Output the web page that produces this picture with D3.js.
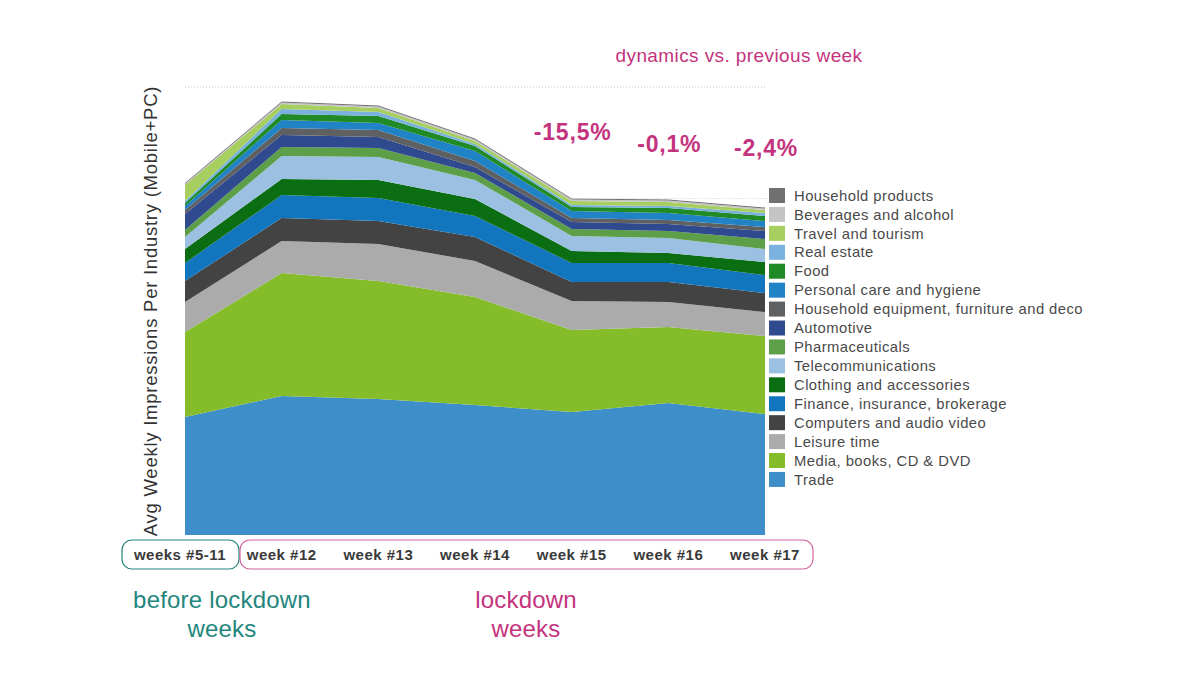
<!DOCTYPE html>
<html lang="en">
  <head>
    <meta charset="UTF-8" />
    <title>Weekly impressions per industry</title>
    <style>
      body {
        margin: 0;
        background: #fff;
      }
      svg {
        font-family: "Liberation Sans", Arial, sans-serif;
      }
    </style>
  </head>

  <body>
    <script src="https://cdn.jsdelivr.net/npm/d3@7"></script>
    <script>
      // semaines (la premiere colonne = moyenne avant confinement)
      const weeks = ["weeks #5-11", "week #12", "week #13", "week #14", "week #15", "week #16", "week #17"];

      // industries, du bas de la pile vers le haut
      const industries = [
        "Trade",
        "Media, books, CD & DVD",
        "Leisure time",
        "Computers and audio video",
        "Finance, insurance, brokerage",
        "Clothing and accessories",
        "Telecommunications",
        "Pharmaceuticals",
        "Automotive",
        "Household equipment, furniture and deco",
        "Personal care and hygiene",
        "Food",
        "Real estate",
        "Travel and tourism",
        "Beverages and alcohol",
        "Household products",
      ];

      const colors = [
        "#3e8fc9", "#85bd2a", "#ababab", "#434344", "#1276be", "#0b6e12",
        "#9bc0e2", "#5d9e49", "#2f4a8f", "#5f6062", "#2083c6", "#1f8a26",
        "#7ab1de", "#a7cf60", "#c4c4c4", "#707071",
      ];

      // impressions moyennes (unite arbitraire), une ligne par industrie, une colonne par semaine
      const trade = [118, 139, 136, 130, 123, 132, 121];
      const media = [85, 123, 118, 108, 82, 76, 78];
      const leisure = [30, 32, 37, 36, 29, 25, 24];
      const computers = [21, 23, 23, 24, 19, 20, 19];
      const finance = [18, 23, 23, 21, 19, 19, 18];
      const clothing = [14, 16, 18, 17, 12, 10, 13];
      const telecom = [12, 23, 23, 19, 15, 15, 13];
      const pharma = [7, 9, 9, 7, 7, 7, 10];
      const automotive = [16, 12, 11, 6, 7, 7, 8];
      const householdEquipment = [4, 7, 7, 6, 4, 4, 4];
      const personalCare = [4, 8, 7, 10, 7, 7, 6];
      const food = [3, 6, 7, 5, 4, 5, 5];
      const realEstate = [2, 5, 4, 2, 2, 2, 3];
      const travel = [16, 5, 4, 3, 4, 4, 3];
      const beverages = [1, 1.5, 1.5, 1.5, 1.5, 1.5, 1.5];
      const householdProducts = [1, 1, 1, 1, 1, 1, 1];

      const series = [
        trade, media, leisure, computers, finance, clothing, telecom, pharma,
        automotive, householdEquipment, personalCare, food, realEstate, travel,
        beverages, householdProducts,
      ];

      // evolution vs semaine precedente (semaines 15 a 17)
      const dynamicsWeeks = ["week #15", "week #16", "week #17"];
      const dynamicsLabels = ["-15,5%", "-0,1%", "-2,4%"];

      const width = 1200;
      const height = 688;
      const teal = "#23867c";
      const magenta = "#c4337d";

      const svg = d3
        .select("body")
        .append("svg")
        .attr("width", width)
        .attr("height", height);

      // table pour d3.stack
      const table = weeks.map((w, i) => {
        const row = { week: w };
        industries.forEach((name, j) => (row[name] = series[j][i]));
        return row;
      });

      const stack = d3.stack().keys(industries);
      const layers = stack(table);

      const x = d3.scalePoint().domain(weeks).range([185, 765]);
      const y = d3.scaleLinear().domain([0, 440]).range([535, 95]);

      const area = d3
        .area()
        .x((d) => x(d.data.week))
        .y0((d) => y(d[0]))
        .y1((d) => y(d[1]));

      svg
        .append("g")
        .selectAll("path")
        .data(layers)
        .enter()
        .append("path")
        .attr("d", area)
        .attr("fill", (d, i) => colors[i]);

      // ligne pointillee en haut
      svg
        .append("line")
        .attr("x1", x.range()[0])
        .attr("x2", x.range()[1])
        .attr("y1", 87)
        .attr("y2", 87)
        .attr("stroke", "#c8c8c8")
        .attr("stroke-dasharray", "1,2");

      // niveau de la semaine 15
      const top15 = d3.sum(series, (s) => s[weeks.indexOf("week #15")]);
      svg
        .append("line")
        .attr("x1", x("week #15"))
        .attr("x2", 768)
        .attr("y1", y(top15))
        .attr("y2", y(top15))
        .attr("stroke", "#d0d0d0")
        .attr("stroke-dasharray", "1,2");

      svg
        .append("text")
        .attr("x", 739)
        .attr("y", 62)
        .attr("text-anchor", "middle")
        .attr("fill", magenta)
        .attr("font-size", 19)
        .attr("letter-spacing", 0.4)
        .text("dynamics vs. previous week");

      const dynOffsets = [0, 12, 16];
      svg
        .append("g")
        .selectAll("text")
        .data(dynamicsLabels)
        .enter()
        .append("text")
        .attr("x", (d, i) => x(dynamicsWeeks[i]) + 1)
        .attr("y", (d, i) => 140 + dynOffsets[i])
        .attr("text-anchor", "middle")
        .attr("fill", magenta)
        .attr("font-size", 23)
        .attr("font-weight", "bold")
        .attr("letter-spacing", 0.8)
        .text((d) => d);

      // titre de l'axe vertical
      svg
        .append("text")
        .attr("transform", "translate(157, 311) rotate(-90)")
        .attr("text-anchor", "middle")
        .attr("fill", "#333")
        .attr("font-size", 18.5)
        .attr("letter-spacing", 0.75)
        .text("Avg Weekly Impressions Per Industry (Mobile+PC)");

      // legende (du haut vers le bas)
      const legend = svg.append("g").attr("transform", "translate(769, 188)");
      const legendItems = industries.map((name, i) => ({ name, color: colors[i] })).reverse();

      const item = legend
        .selectAll("g")
        .data(legendItems)
        .enter()
        .append("g")
        .attr("transform", (d, i) => `translate(0, ${i * 18.93})`);

      item
        .append("rect")
        .attr("width", 16)
        .attr("height", 15)
        .attr("fill", (d) => d.color);

      item
        .append("text")
        .attr("x", 25)
        .attr("y", 7.5)
        .attr("dy", "0.35em")
        .attr("fill", "#4a4a4a")
        .attr("font-size", 14.8)
        .attr("letter-spacing", 0.45)
        .text((d) => d.name);

      // cadres des periodes
      svg
        .append("rect")
        .attr("x", 122)
        .attr("y", 540)
        .attr("width", 117)
        .attr("height", 29)
        .attr("rx", 10)
        .attr("fill", "none")
        .attr("stroke", teal)
        .attr("stroke-width", 1.2);

      svg
        .append("rect")
        .attr("x", 240)
        .attr("y", 540)
        .attr("width", 573)
        .attr("height", 29)
        .attr("rx", 10)
        .attr("fill", "none")
        .attr("stroke", "#d4649d")
        .attr("stroke-width", 1.2);

      // etiquettes des semaines
      svg
        .append("g")
        .selectAll("text")
        .data(weeks)
        .enter()
        .append("text")
        .attr("x", (d, i) => x(d) + (i === 0 ? -5 : 0))
        .attr("y", 560)
        .attr("text-anchor", "middle")
        .attr("fill", "#3a3a3a")
        .attr("font-size", 15)
        .attr("font-weight", "bold")
        .attr("letter-spacing", 0.5)
        .text((d) => d);

      // periodes
      const periods = [
        { lines: ["before lockdown", "weeks"], cx: 222, color: teal },
        { lines: ["lockdown", "weeks"], cx: 526, color: magenta },
      ];

      periods.forEach((p) => {
        p.lines.forEach((line, i) => {
          svg
            .append("text")
            .attr("x", p.cx)
            .attr("y", 608 + i * 29)
            .attr("text-anchor", "middle")
            .attr("fill", p.color)
            .attr("font-size", 24)
            .attr("letter-spacing", 0.2)
            .text(line);
        });
      });
    </script>
  </body>
</html>
